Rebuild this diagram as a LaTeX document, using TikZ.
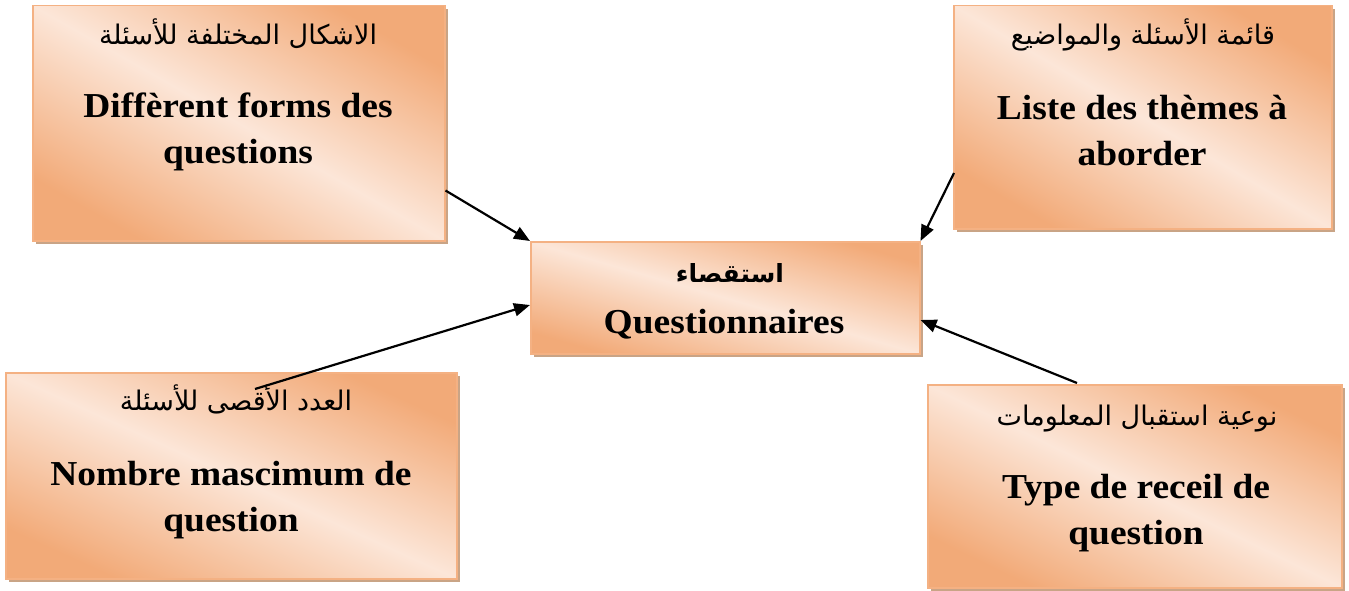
\documentclass[tikz,border=0pt]{standalone}
\usepackage{fontspec}
\setmainfont{Liberation Serif}[FakeStretch=1.07]
\newfontfamily\arabicfont[Script=Arabic]{DejaVu Sans}
\TeXXeTstate=1
\usetikzlibrary{arrows.meta,calc,shadows}
\definecolor{boxorange}{HTML}{F2AA78}
\definecolor{boxlight}{HTML}{FCE6D8}
\definecolor{boxedge}{HTML}{F4B183}
\definecolor{boxshadow}{HTML}{C9A486}
\begin{document}
\begin{tikzpicture}[x=1pt,y=-1pt,
  gbox/.style={draw=boxedge, line width=1.5pt, top color=boxorange, bottom color=boxorange,
    middle color=boxlight, inner sep=0pt, anchor=north west,
    drop shadow={shadow xshift=3pt, shadow yshift=-3pt, fill=boxshadow, opacity=1}},
  artext/.style={anchor=base, inner sep=0pt, font=\arabicfont\fontsize{27}{30}\selectfont},
  latext/.style={anchor=base, inner sep=0pt, align=center, font=\bfseries\fontsize{35}{46}\selectfont},
  arr/.style={line width=2.2pt, -{Triangle[length=16pt,width=13pt]}}]
\useasboundingbox (0,0) rectangle (1349,591);

\node[gbox, minimum width=412pt, minimum height=235pt, shading angle=-29.7] (b1) at (32,5) {};
\node[gbox, minimum width=378pt, minimum height=223pt, shading angle=-30.5] (b2) at (953,5) {};
\node[gbox, minimum width=389pt, minimum height=112pt, shading angle=-16] (c) at (530,241) {};
\node[gbox, minimum width=451pt, minimum height=206pt, shading angle=-24.5] (b4) at (5,372) {};
\node[gbox, minimum width=414pt, minimum height=203pt, shading angle=-26] (b5) at (927,384) {};

\node[artext] (b1a) at (238,45) {\beginR الاشكال المختلفة للأسئلة\endR};
\node[latext] (b1l) at (238,164) {Diffèrent forms des\\questions};

\node[artext] (b2a) at (1143,45) {\beginR قائمة الأسئلة والمواضيع\endR};
\node[latext] (b2l) at (1142,165) {Liste des thèmes à\\aborder};

\node[artext, font=\arabicfont\bfseries\fontsize{25}{30}\selectfont] (ca) at (730,282) {\beginR استقصاء\endR};
\node[latext] (cl) at (724,333) {Questionnaires};

\node[artext] (b4a) at (236,410) {\beginR العدد الأقصى للأسئلة\endR};
\node[latext] (b4l) at (231,531) {Nombre mascimum de\\question};

\node[artext] (b5a) at (1137,425) {\beginR نوعية استقبال المعلومات\endR};
\node[latext] (b5l) at (1136,544) {Type de receil de\\question};

\coordinate (s1) at ($(b1.south east)+(0,-51)$);
\coordinate (s2) at ($(b2.north west)+(1,168)$);
\coordinate (s3) at ($(b4.north west)+(250,17)$);
\coordinate (s4) at ($(b5.north west)+(150,-1)$);
\coordinate (e3) at ($(c.north west)+(0,64)$);
\coordinate (e4) at ($(c.north east)+(0,79)$);

\draw[arr] (s1) -- (c.north west);
\draw[arr] (s2) -- (c.north east);
\draw[arr] (s3) -- (e3);
\draw[arr] (s4) -- (e4);
\end{tikzpicture}
\end{document}
